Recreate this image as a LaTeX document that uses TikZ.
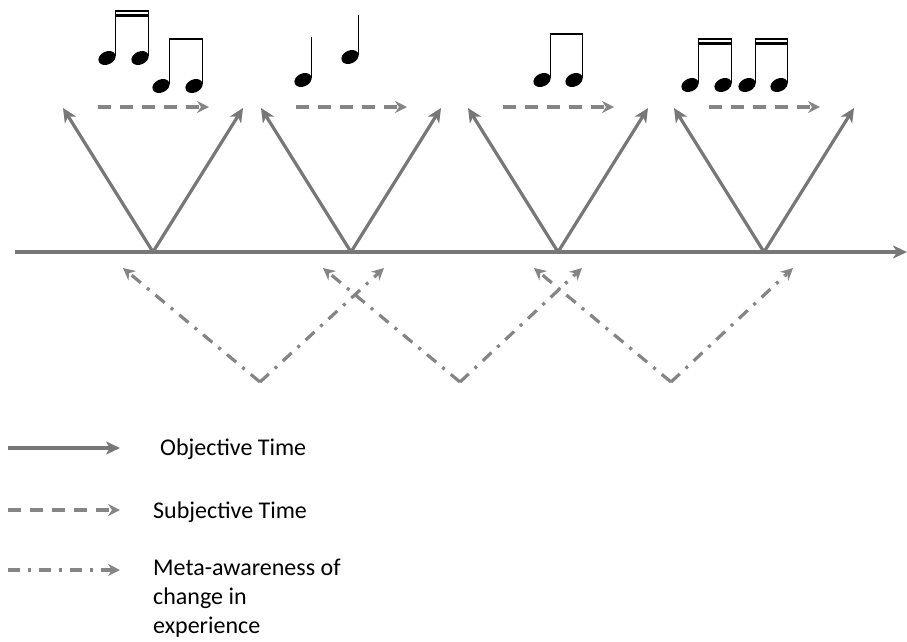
\documentclass[tikz,border=0pt]{standalone}
\usepackage{fontspec}
\setmainfont{Carlito}
\usetikzlibrary{arrows.meta}
\definecolor{lg}{HTML}{777777}
\definecolor{dg}{HTML}{858585}
\newcommand\nhead[2]{\fill[rotate around={25:(#1,#2)}] (#1,#2) ellipse [x radius=9, y radius=6.5];}
\begin{document}
\begin{tikzpicture}[x=1pt,y=-1pt,
 obj/.style={draw=lg, line width=3.2pt, -{Stealth[length=14pt,width=13pt,inset=4pt]}},
 subj/.style={draw=dg, line width=4.2pt, dash pattern=on 13pt off 9pt, -{Stealth[length=12pt,width=12pt,inset=4pt]}},
 meta/.style={draw=dg, line width=3.2pt, dash pattern=on 12pt off 8pt on 3pt off 8pt, -{Stealth[length=12pt,width=12pt,inset=4pt]}},
 stemline/.style={line width=1.8pt},
 beamline/.style={line width=2.4pt},
 lbl/.style={anchor=base west, inner sep=0pt, font=\fontsize{24}{29}\selectfont, align=left}]
\useasboundingbox (0,0) rectangle (907,641);

% timeline
\coordinate (t0) at (15,252);
\coordinate (t1) at (907,252);
\draw[obj] (t0) -- (t1);

% objective V's
\foreach \i/\vx in {1/153,2/351,3/558,4/764}{
  \coordinate (v\i) at (\vx,252);
  \coordinate (l\i) at (\vx-90,108);
  \coordinate (r\i) at (\vx+90,108);
  \coordinate (sa\i) at (\vx-55,107);
  \coordinate (sb\i) at (\vx+56,107);
  \draw[obj] (v\i) -- (l\i);
  \draw[obj] (v\i) -- (r\i);
  \draw[subj] (sa\i) -- (sb\i);
}

% meta-awareness V's
\foreach \i/\bx/\lx/\rx in {1/260/123/384,2/460/323/582,3/671/534/793}{
  \coordinate (m\i) at (\bx,382);
  \coordinate (ml\i) at (\lx,268);
  \coordinate (mr\i) at (\rx,268);
  \draw[meta] (m\i) -- (ml\i);
  \draw[meta] (m\i) -- (mr\i);
}

% music notes group 1
\nhead{107}{58}\nhead{140}{58}
\draw[stemline] (115.5,56) -- (115.5,10) (148.5,56) -- (148.5,10);
\draw[beamline] (114.6,11) -- (149.4,11) (114.6,15.5) -- (149.4,15.5);
\nhead{161}{86}\nhead{194}{86}
\draw[stemline] (169.5,84) -- (169.5,38) (202.5,84) -- (202.5,38);
\draw[beamline] (168.6,39) -- (203.4,39);
% group 2
\nhead{303}{80}\nhead{350}{57}
\draw[stemline] (311.5,78) -- (311.5,37) (358.5,55) -- (358.5,15);
% group 3
\nhead{542}{80}\nhead{574}{80}
\draw[stemline] (550.5,78) -- (550.5,33) (582.5,78) -- (582.5,33);
\draw[beamline] (549.6,34) -- (583.4,34);
% group 4
\nhead{690}{85}\nhead{723}{85}\nhead{747}{85}\nhead{779}{85}
\draw[stemline] (698.5,83) -- (698.5,38) (731.5,83) -- (731.5,38) (755.5,83) -- (755.5,38) (787.5,83) -- (787.5,38);
\draw[beamline] (697.6,39) -- (732.4,39) (697.6,43.5) -- (732.4,43.5)
                (754.6,39) -- (788.4,39) (754.6,43.5) -- (788.4,43.5);

% legend
\coordinate (ka) at (8,448); \coordinate (kb) at (120,448);
\coordinate (kc) at (8,510); \coordinate (kd) at (120,510);
\coordinate (ke) at (8,570); \coordinate (kf) at (120,570);
\draw[obj] (ka) -- (kb);
\draw[subj] (kc) -- (kd);
\draw[meta] (ke) -- (kf);
\node[lbl] (lo) at (160,455) {Objective Time};
\node[lbl] (ls) at (153,518) {Subjective Time};
\node[lbl] (lm) at (153,633) {Meta-awareness of\\change in\\experience};
\end{tikzpicture}
\end{document}
